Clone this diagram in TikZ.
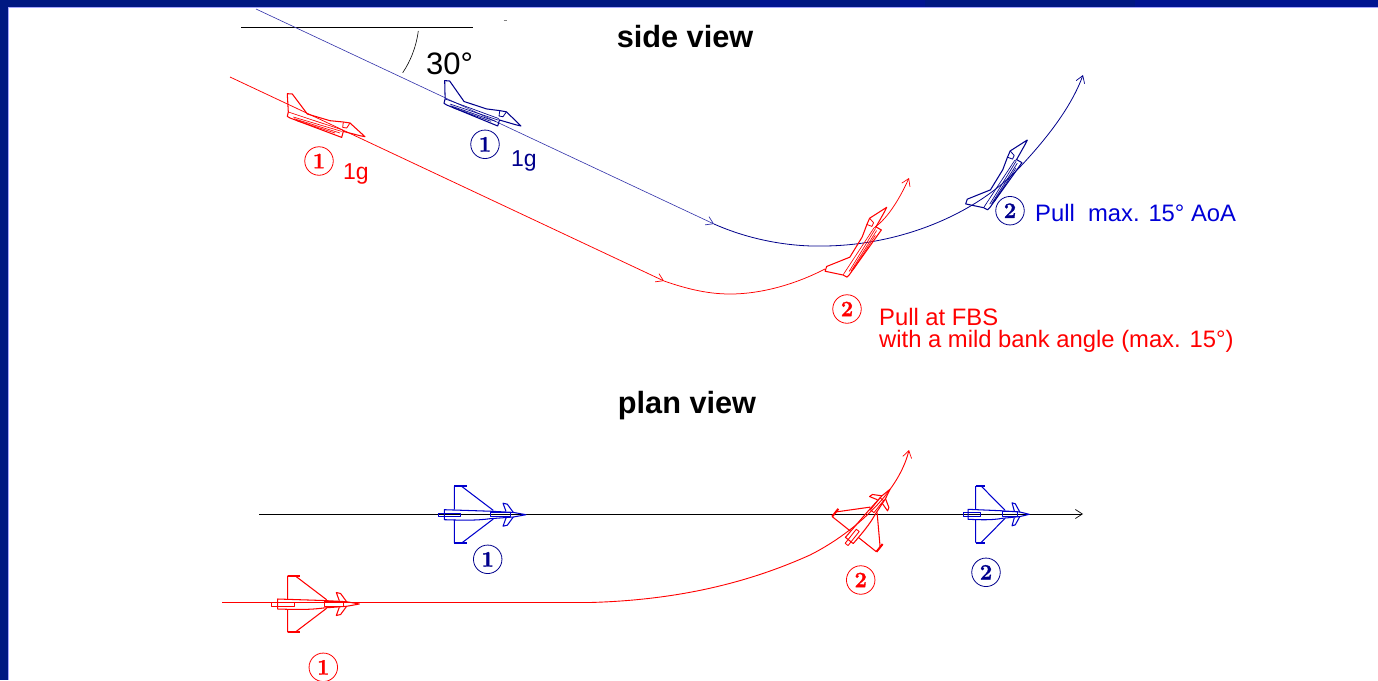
\documentclass[tikz,border=0pt]{standalone}
\usepackage{fontspec}
\setmainfont{Liberation Sans}
\newfontfamily\digitfont[BoldFeatures={FakeBold=1.5}]{Latin Modern Roman}
\usetikzlibrary{arrows.meta}
\definecolor{navyband}{RGB}{0,24,130}
\definecolor{navyline}{RGB}{0,0,140}
\definecolor{thinblue}{RGB}{50,50,170}
\definecolor{brightblue}{RGB}{0,0,215}
\definecolor{planblue}{RGB}{0,0,205}
\tikzset{
  x=1pt,y=-1pt,
  path/.style={line width=0.75pt},
  barb/.style={-{Straight Barb[length=7pt,width=9pt,line width=0.7pt]}},
  jetline/.style={line width=1.05pt,line join=round},
  thinjet/.style={line width=0.65pt,line join=round},
  num/.style={draw,circle,minimum size=28.5pt,inner sep=0pt,line width=0.8pt,font=\digitfont\bfseries\fontsize{22}{22}\selectfont},
  lab/.style={font=\fontsize{23.8}{24}\selectfont,anchor=west,inner sep=0pt},
  head/.style={font=\bfseries\fontsize{30.7}{31}\selectfont,inner sep=0pt},
  sidejet/.pic={
    \draw[jetline]
      (0,0) -- (-15,-13.7) -- (-21.7,-14.7) -- (-35,-16) -- (-57.7,-22.7)
      -- (-72.7,-42.7) -- (-77.7,-43) -- (-76.7,-24.7) -- (-77.7,-20.3) -- (-75,-18.7)
      -- (-23.3,0.7) -- (-21.7,-5.3) -- (-5,-1) -- cycle;
    \draw[thinjet] (-76.7,-24.7) -- (-48.3,-15.3) -- (-23.3,-7) -- (-21.7,-5.3);
    \draw[thinjet]
      (-71.7,-19.7) -- (-23.3,-5.3) (-71,-18) -- (-25,-3.7) (-68.3,-16) -- (-30,-3.7);
    \draw[thinjet,line width=0.8pt]
      (-21.7,-14.7) -- (-22.3,-9.3) -- (-18.3,-8.7) -- (-15,-13.7);
  },
  planjet/.pic={
    \draw[jetline]
      (-71.7,-5) -- (-71.7,-28.3) (-71.7,5) -- (-71.7,28.3)
      (-64.3,-28.3) -- (-32.7,-4.3) (-64.3,28.3) -- (-32.7,4.3);
    \draw[jetline,line width=2pt]
      (-71.7,-28.3) -- (-59.3,-28.3) (-71.7,28.3) -- (-59.3,28.3);
    \draw[jetline]
      (-81.7,-5) -- (-36,-3.5) -- (-12.7,-2.3) -- (0,0) -- (-12.7,2.3) -- (-36,4)
      .. controls (-50,6) and (-65,5.5) .. (-81.7,5) -- cycle;
    \draw[thinjet,line width=0.85pt] (-87.7,-1.5) rectangle (-65.3,2.2);
    \draw[thinjet,line width=0.85pt] (-35.3,-2.5) rectangle (-16,2);
    \draw[jetline]
      (-12.7,-2.3) -- (-18.7,-10.5) -- (-23,-11.5) -- (-20,-3.3)
      (-12.7,2.3) -- (-18.7,10.5) -- (-23,11.5) -- (-20,3.3);
  }
}
\begin{document}
\begin{tikzpicture}
\useasboundingbox (0,0) rectangle (1378,680);
\fill[white] (0,0) rectangle (1378,680);
% slide frame
\fill[navyband] (0,0) rectangle (1378,7.5);
\fill[navyband] (0,0) rectangle (8,680);
\fill[blue!40!navyband,opacity=.3] (760,0) rectangle (790,7.5) (900,0) rectangle (925,7.5) (1135,0) rectangle (1210,7.5) (1260,0) rectangle (1378,7.5);
\draw[white!65!blue,line width=0.5pt] (8,680) -- (8,7.5) -- (1378,7.5);

% named points
\coordinate (bs) at (256,9);
\coordinate (bm) at (714,224);
\coordinate (bl) at (825,246);
\coordinate (bk) at (1020,167);
\coordinate (be) at (1083,75);
\coordinate (rs) at (230,77);
\coordinate (rm) at (664,281);
\coordinate (rl) at (730,294);
\coordinate (rj) at (825,269);
\coordinate (rk) at (875,227);
\coordinate (re) at (909,178);
\coordinate (hs) at (241,27);
\coordinate (he) at (473,27);
\coordinate (as) at (418.3,31);
\coordinate (ae) at (402.7,72.7);
\coordinate (ds) at (503.5,20.7);
\coordinate (de) at (506.5,20.7);
\coordinate (ps) at (259,514);
\coordinate (pe) at (1083,514);
\coordinate (qs) at (222,602.5);
\coordinate (qm) at (590,602.5);
\coordinate (qk) at (810,555);
\coordinate (qe) at (909,450);

% side view
\draw[black,line width=0.8pt] (hs) -- (he);
\draw[black,line width=0.6pt] (as) .. controls (416,48) and (410,62) .. (ae);
\draw[gray,line width=0.6pt] (ds) -- (de);
\draw[thinblue,line width=0.6pt,barb] (bs) -- (bm);
\draw[navyline,line width=0.8pt,barb] (bm) .. controls (750,240) and (790,247) .. (bl)
  .. controls (900,245) and (975,215) .. (bk) .. controls (1050,135) and (1072,105) .. (be);
\draw[red,path,barb] (rs) -- (rm);
\draw[red,path] (rm) .. controls (690,290) and (710,294) .. (rl) .. controls (765,294) and (800,282) .. (rj);
\draw[red,path,barb] (rk) .. controls (888,218) and (900,198) .. (re);

\pic[red] at (365,136.7) {sidejet};
\pic[navyline,rotate=-1.8] at (521,126) {sidejet};
\pic[red,rotate=75] at (886.7,207.3) {sidejet};
\pic[navyline,rotate=75] at (1027.3,140) {sidejet};

\node[head] (sideview) at (685,37) {side view};
\node[inner sep=0pt,font=\fontsize{31}{31}\selectfont] (angle) at (449.5,63.5) {30°};
\node[num,red] (r1) at (319,161) {1};
\node[num,navyline] (b1) at (485,144.3) {1};
\node[num,navyline] (b2) at (1010,210.7) {2};
\node[num,red] (r2) at (847,309) {2};
\node[lab,red,font=\fontsize{23}{24}\selectfont] (g1) at (343,174) {1g};
\node[lab,navyline,font=\fontsize{23}{24}\selectfont] (g2) at (511,161) {1g};
\node[lab,brightblue] (pullb) at (1035,213) {Pull\ \ max. 15° AoA};
\node[lab,red,align=left,font=\fontsize{23.8}{22.5}\selectfont] (pullr) at (879,330.5) {Pull at FBS\\with a mild bank angle (max. 15°)};

% plan view
\node[head] (planview) at (687,406) {plan view};
\draw[black,line width=0.8pt,barb] (ps) -- (pe);
\draw[red,line width=0.9pt,barb] (qs) -- (qm) .. controls (680,600) and (750,582) .. (qk)
  .. controls (850,535) and (898,495) .. (qe);
\pic[planblue] at (526,514.7) {planjet};
\pic[planblue,xscale=.75] at (1029.3,514.3) {planjet};
\pic[red] at (359.3,604) {planjet};
\pic[red,rotate=51.5,xscale=.8] at (890,489.3) {planjet};
\node[num,navyline] (pb1) at (487.7,559.3) {1};
\node[num,red] (pr1) at (323.3,667.3) {1};
\node[num,red] (pr2) at (860.7,580) {2};
\node[num,navyline] (pb2) at (986,572.3) {2};
\end{tikzpicture}
\end{document}
